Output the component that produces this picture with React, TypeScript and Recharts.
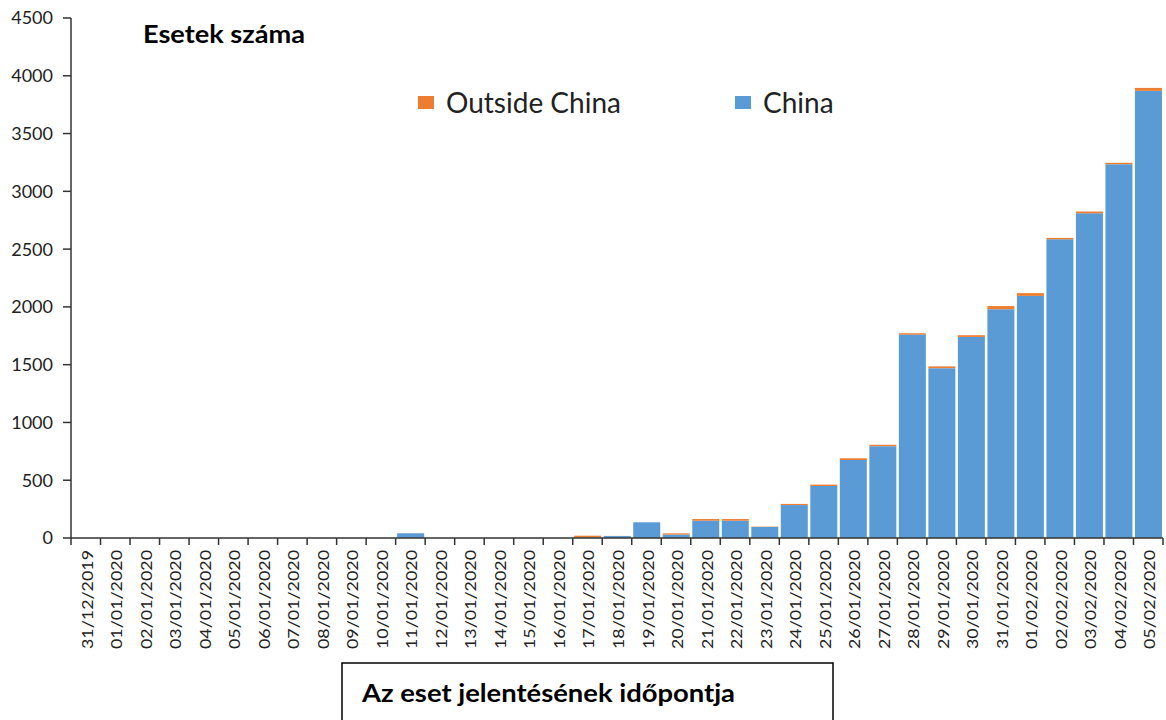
import { BarChart, Bar, XAxis, YAxis, Legend } from 'recharts'

// report dates (x categories)
const dates = [
  '31/12/2019', '01/01/2020', '02/01/2020', '03/01/2020', '04/01/2020', '05/01/2020', '06/01/2020',
  '07/01/2020', '08/01/2020', '09/01/2020', '10/01/2020', '11/01/2020', '12/01/2020', '13/01/2020',
  '14/01/2020', '15/01/2020', '16/01/2020', '17/01/2020', '18/01/2020', '19/01/2020', '20/01/2020',
  '21/01/2020', '22/01/2020', '23/01/2020', '24/01/2020', '25/01/2020', '26/01/2020', '27/01/2020',
  '28/01/2020', '29/01/2020', '30/01/2020', '31/01/2020', '01/02/2020', '02/02/2020', '03/02/2020',
  '04/02/2020', '05/02/2020',
]

// cases reported in China
const china = [
  0, 0, 0, 0, 0, 0, 0, 0, 0, 0, 0, 41, 0, 0, 0, 0, 0, 5, 17, 136, 30,
  150, 150, 95, 285, 450, 675, 795, 1760, 1470, 1740, 1980, 2095, 2585, 2810, 3235, 3870,
]

// cases reported outside China
const outside = [
  0, 0, 0, 0, 0, 0, 0, 0, 0, 0, 0, 0, 0, 0, 0, 0, 0, 15, 1, 0, 10,
  14, 14, 3, 10, 12, 15, 12, 12, 15, 15, 27, 24, 12, 15, 12, 25,
]

const yTicks = [0, 500, 1000, 1500, 2000, 2500, 3000, 3500, 4000, 4500]

const data = dates.map((d, i) => ({ date: d, china: china[i], outside: outside[i] }))

const PLOT_LEFT = 71
const PLOT_RIGHT = 1163
const PLOT_BOTTOM = 538
const FONT = 'Lato, "Open Sans", sans-serif'

function DateTick(props: any) {
  const { x, payload, index } = props
  const band = (PLOT_RIGHT - PLOT_LEFT) / dates.length
  return (
    <g>
      <line x1={x - band / 2} x2={x - band / 2} y1={PLOT_BOTTOM} y2={PLOT_BOTTOM + 7} stroke="#333" strokeWidth={1.5} />
      {index === dates.length - 1 && (
        <line x1={x + band / 2} x2={x + band / 2} y1={PLOT_BOTTOM} y2={PLOT_BOTTOM + 7} stroke="#333" strokeWidth={1.5} />
      )}
      <text
        transform={`translate(${x + 7},${PLOT_BOTTOM + 12}) rotate(-90)`}
        textAnchor="end"
        fontSize={14.5}
        fontFamily={FONT}
        fill="#222"
        textLength={99}
        lengthAdjust="spacingAndGlyphs"
      >
        {payload.value}
      </text>
    </g>
  )
}

function LegendContent(props: any) {
  const items = [...(props.payload || [])].reverse()
  return (
    <div style={{ display: 'flex', alignItems: 'center', fontFamily: FONT, fontSize: 28, color: '#222', whiteSpace: 'nowrap' }}>
      {items.map((it: any, i: number) => (
        <div key={it.value} style={{ display: 'flex', alignItems: 'center', width: i === 0 ? 317 : 'auto' }}>
          <span style={{ display: 'inline-block', width: 16, height: 13, background: it.color, marginRight: 12 }} />
          <span>{it.value}</span>
        </div>
      ))}
    </div>
  )
}

export default function App() {
  return (
    <div style={{ position: 'absolute', left: 0, top: 0, width: 1166, height: 720, background: '#fff' }}>
      <BarChart
        width={1166}
        height={720}
        data={data}
        margin={{ top: 18, right: 3, bottom: 0, left: 11 }}
        barCategoryGap="5%"
      >
        <XAxis
          dataKey="date"
          height={182}
          interval={0}
          tickLine={false}
          axisLine={{ stroke: '#333', strokeWidth: 1.5 }}
          tick={<DateTick />}
        />
        <YAxis
          width={60}
          domain={[0, 4500]}
          ticks={yTicks}
          interval={0}
          tickSize={8}
          tickMargin={10}
          axisLine={{ stroke: '#333', strokeWidth: 1.5 }}
          tickLine={{ stroke: '#333', strokeWidth: 1.5 }}
          tick={{ fill: '#222', fontSize: 18, fontFamily: FONT }}
        />
        <Legend
          layout="horizontal"
          verticalAlign="middle"
          align="center"
          content={<LegendContent />}
          wrapperStyle={{ top: 85, left: 418, width: 'auto' }}
        />
        <Bar dataKey="china" name="China" stackId="a" fill="#5B9BD5" isAnimationActive={false} />
        <Bar dataKey="outside" name="Outside China" stackId="a" fill="#ED7D31" isAnimationActive={false} />
      </BarChart>
      <svg width={1166} height={720} style={{ position: 'absolute', left: 0, top: 0, pointerEvents: 'none' }}>
        <text x={143} y={43} fontFamily={FONT} fontWeight="bold" fontSize={24} fill="#000" textLength={162} lengthAdjust="spacingAndGlyphs">
          Esetek száma
        </text>
        <rect x={342} y={663} width={491} height={70} fill="#fff" stroke="#000" strokeWidth={1.5} />
        <text x={362} y={702} fontFamily={FONT} fontWeight="bold" fontSize={25} fill="#000" textLength={373} lengthAdjust="spacingAndGlyphs">
          Az eset jelentésének időpontja
        </text>
      </svg>
    </div>
  )
}
